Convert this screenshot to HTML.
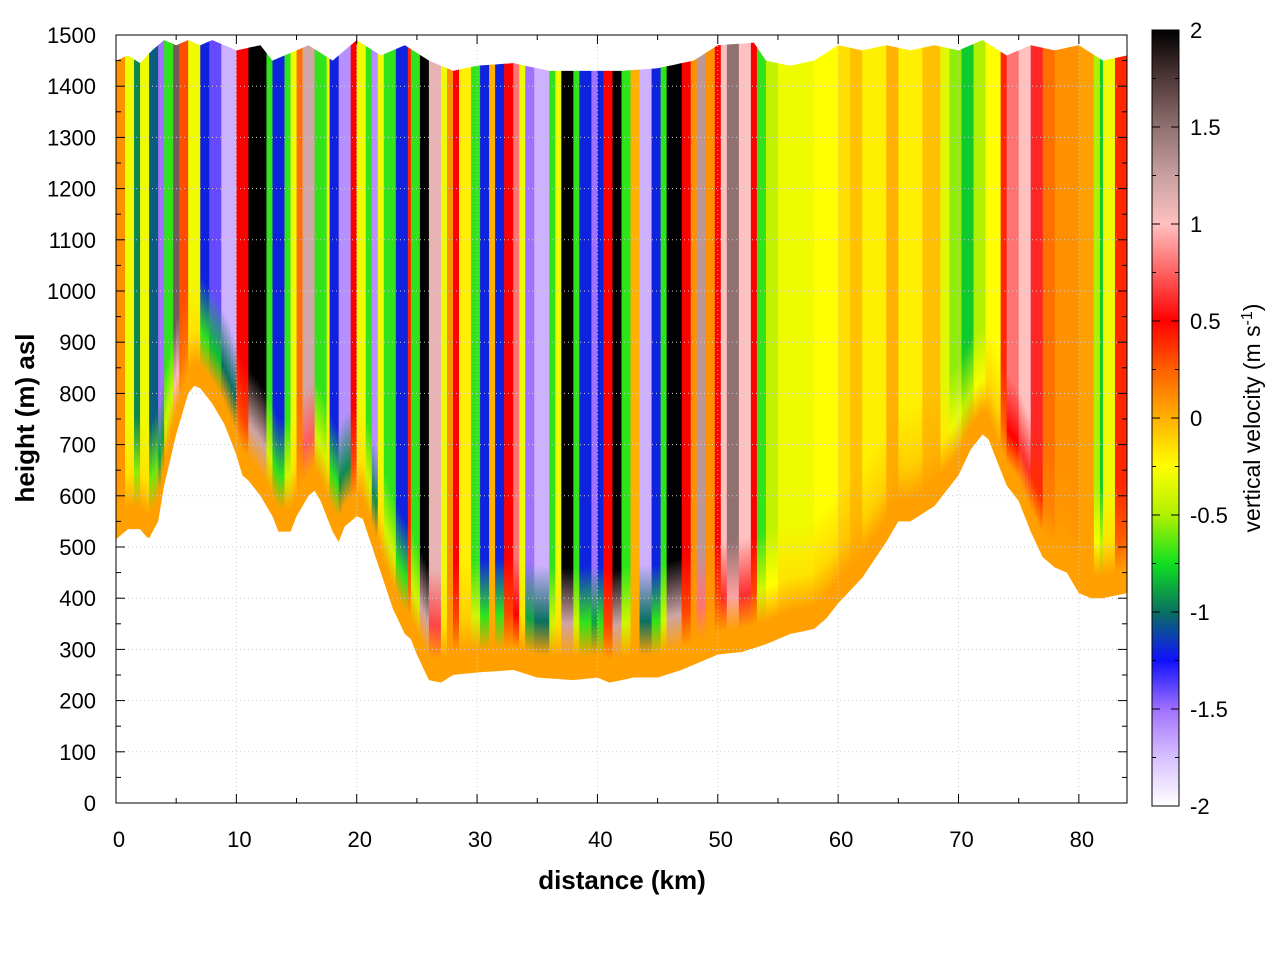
<!DOCTYPE html>
<html><head><meta charset="utf-8">
<style>
html,body{margin:0;padding:0;background:#fff;}
svg{display:block;font-family:"Liberation Sans",sans-serif;}
</style></head>
<body>
<svg id="chart" width="1280" height="960" viewBox="0 0 1280 960" xmlns="http://www.w3.org/2000/svg">
<defs id="defs"></defs>
<g id="plot"></g>
<g id="axes"></g>
<g id="cbar"></g>
</svg>
<script>
// ---- data ----
const segStartKm = [0,0.8,1.4,2.1,2.7,3.5,4.1,4.7,5.3,6.1,7.0,7.8,8.8,10.0,10.9,12.5,13.0,13.9,14.5,15.1,15.6,16.5,17.4,17.8,18.4,19.4,20.1,20.7,21.3,21.8,22.3,23.2,24.3,24.6,25.2,26.1,26.9,27.4,27.9,28.6,29.4,30.2,31.1,31.6,32.3,32.9,33.6,34.1,34.8,35.9,36.5,36.9,37.9,38.5,39.4,40.0,40.6,41.2,41.9,42.7,43.5,44.4,45.2,45.8,47.0,47.7,48.3,48.9,49.8,50.2,50.8,51.8,52.7,53.2,53.9,55.1,58,60,61,62,64,65,67,68.5,69.3,70.2,71.2,72.2,73.4,74,75,76,77,78,80.1,81.3,81.8,82.1,83.0];
const segVelocity = [0.1,-0.3,-0.95,-0.3,-1.05,-1.5,-0.7,1.6,0.3,-0.3,-1.2,-1.4,-1.7,0.5,2,-0.7,-1.2,-0.7,-0.3,0.2,1.2,-0.7,-0.3,-1.2,-1.6,0.5,-0.3,-0.7,-1.6,-0.3,-0.7,-1.2,0.4,-0.7,2,1.1,-0.3,0.1,0.5,-0.2,-0.7,-1.2,0,-1.2,0.5,0.8,-0.3,-1.5,-1.7,-0.7,-0.3,2,-0.7,-1.2,-1.5,-1.2,0.5,2,-0.7,0,-1.7,-1.2,-0.7,2,0.5,0.1,1.3,0.1,0.5,1,1.5,1,0.5,-0.7,-0.45,-0.3,-0.25,-0.15,-0.05,-0.2,0,-0.2,-0.05,-0.35,-0.55,-0.8,-0.5,-0.25,0.4,0.8,1.0,0.6,0.2,0.1,0.05,-0.5,-0.8,-0.3,0.4];
const terrainKm = [0,1,2,2.7,3.5,4,5,6,6.5,7,8,9,10,10.5,11,12,13,13.5,14.5,15,16,16.5,17,18,18.5,19,20,20.5,21,22,23,24,24.5,25,26,27,28,30,32,33,35,38,40,41,43,45,47,49,50,52,54,56,58,59,60,62,64,65,66,68,70,71,72,72.5,73,74,75,76,77,78,79,80,81,82,83,84];
const terrainM = [515,535,535,515,550,620,720,800,815,810,780,740,680,640,630,600,560,530,530,560,600,610,590,530,510,540,560,555,520,450,380,330,320,290,240,235,250,255,258,260,245,240,245,235,245,245,260,280,290,295,310,330,340,360,390,440,510,550,550,580,640,690,720,710,680,620,590,530,480,460,450,410,400,400,405,410];
const topKm = [0,1,2,3,4,5,6,7,8,10,12,13,14,16,18,20,22,24,26,27,28,30,33,36,40,42,45,48,50,53,54,56,58,60,62,64,66,68,70,72,74,76,78,80,82,84];
const topM = [1450,1460,1445,1470,1490,1480,1490,1480,1490,1470,1480,1450,1460,1480,1450,1490,1460,1480,1450,1440,1430,1440,1445,1430,1430,1430,1435,1450,1480,1485,1450,1440,1450,1480,1470,1480,1470,1480,1470,1490,1460,1480,1470,1480,1450,1460];
const xTicks = [0,10,20,30,40,50,60,70,80];
const yTicks = [0,100,200,300,400,500,600,700,800,900,1000,1100,1200,1300,1400,1500];
const cbTicks = [2,1.5,1,0.5,0,-0.5,-1,-1.5,-2];
const cmapVals = [-2,-1.75,-1.5,-1.25,-1,-0.75,-0.5,-0.25,0,0.25,0.5,0.75,1,1.25,1.5,1.75,2];
const cmapCols = ["#ffffff","#d8c0ff","#a070ff","#1010ff","#0a7060","#10e020","#b0f000","#ffff00","#ffb000","#ff6000","#ff0000","#ff6060","#ffc0c0","#c8a0a0","#907070","#503838","#000000"];

// ---- geometry ----
const X0=116,X1=1127,KM1=84,Y0=803,Y1=35,M1=1500;
const sx=k=>X0+(X1-X0)*k/KM1;
const sy=m=>Y0-(Y0-Y1)*m/M1;
const NS="http://www.w3.org/2000/svg";
function mk(tag,attrs,parent){const e=document.createElementNS(NS,tag);for(const a in attrs)e.setAttribute(a,attrs[a]);if(parent)parent.appendChild(e);return e;}
function interp(xs,ys,x){if(x<=xs[0])return ys[0];for(let i=1;i<xs.length;i++){if(x<=xs[i]){const t=(x-xs[i-1])/(xs[i]-xs[i-1]);return ys[i-1]+t*(ys[i]-ys[i-1]);}}return ys[ys.length-1];}
function hex(c){return [parseInt(c.slice(1,3),16),parseInt(c.slice(3,5),16),parseInt(c.slice(5,7),16)];}
function cmap(v){v=Math.max(-2,Math.min(2,v));for(let i=1;i<cmapVals.length;i++){if(v<=cmapVals[i]){const t=(v-cmapVals[i-1])/(cmapVals[i]-cmapVals[i-1]);const a=hex(cmapCols[i-1]),b=hex(cmapCols[i]);return `rgb(${a.map((x,j)=>Math.round(x+t*(b[j]-x))).join(',')})`;}}return cmapCols[cmapCols.length-1];}
function velAt(k){let v=segVelocity[0];for(let i=0;i<segStartKm.length;i++){if(k>=segStartKm[i])v=segVelocity[i];}return v;}

const defs=document.getElementById('defs');
const plot=document.getElementById('plot');
const axes=document.getElementById('axes');
const cbar=document.getElementById('cbar');

// grid
for(const t of xTicks){const l=mk('line',{x1:sx(t),x2:sx(t),y1:Y0,y2:Y1,stroke:'#ccc','stroke-width':1,'stroke-dasharray':'1,3'},axes);

}
for(const t of yTicks){const l=mk('line',{x1:X0,x2:X1,y1:sy(t),y2:sy(t),stroke:'#ccc','stroke-width':1,'stroke-dasharray':'1,3'},axes);

}

// domain clip
let pts=[];
for(let k=0;k<=KM1;k+=0.25)pts.push(sx(k)+','+sy(interp(topKm,topM,k)));
for(let k=KM1;k>=0;k-=0.25)pts.push(sx(k)+','+sy(interp(terrainKm,terrainM,k)));
const cp=mk('clipPath',{id:'dom'},defs);
mk('polygon',{points:pts.join(' ')},cp);
const field=mk('g',{'clip-path':'url(#dom)'},plot);


const step=0.25;
let gi=0;
for(let k=0;k<KM1;k+=step){
  const v=velAt(k+step/2);
  const g=interp(terrainKm,terrainM,k+step/2);
  const id='g'+(gi++);
  const lg=mk('linearGradient',{id:id,gradientUnits:'userSpaceOnUse',x1:0,x2:0,y1:sy(g),y2:sy(g+220)},defs);
  mk('stop',{offset:0,'stop-color':cmap(0.05)},lg);
  mk('stop',{offset:0.2,'stop-color':cmap(0.05)},lg);
  mk('stop',{offset:0.5,'stop-color':cmap(v*0.6+0.02)},lg);
  mk('stop',{offset:1,'stop-color':cmap(v)},lg);
  const r=mk('rect',{x:sx(k),y:Y1-10,width:sx(k+step)-sx(k)+0.6,height:Y0-Y1+20,fill:'url(#'+id+')'},field);
  
  
}

// frame and ticks
const fr=mk('rect',{x:X0,y:Y1,width:X1-X0,height:Y0-Y1,fill:'none',stroke:'#000','stroke-width':1},axes);


for(let t=0;t<=KM1;t+=5){const len=t%10===0?9:5;
 mk('line',{x1:sx(t),x2:sx(t),y1:Y0,y2:Y0-len,stroke:'#000'},axes);
 mk('line',{x1:sx(t),x2:sx(t),y1:Y1,y2:Y1+len,stroke:'#000'},axes);}
for(let t=0;t<=M1;t+=50){const len=t%100===0?9:5;
 mk('line',{x1:X0,x2:X0+len,y1:sy(t),y2:sy(t),stroke:'#000'},axes);
 mk('line',{x1:X1,x2:X1-len,y1:sy(t),y2:sy(t),stroke:'#000'},axes);}
for(const t of xTicks){const tx=mk('text',{x:sx(t)+3,y:847,'font-size':22,'text-anchor':'middle'},axes);tx.textContent=t;

}
for(const t of yTicks){const tx=mk('text',{x:96,y:sy(t)+8,'font-size':22,'text-anchor':'end'},axes);tx.textContent=t;

}
const xt=mk('text',{x:622,y:889,'font-size':26,'font-weight':'bold','text-anchor':'middle'},axes);xt.textContent='distance (km)';


const yt=mk('text',{x:0,y:0,'font-size':26,'font-weight':'bold','text-anchor':'middle',transform:'translate(34,418) rotate(-90)'},axes);yt.textContent='height (m) asl';



// colorbar
const CX=1152,CW=27,CY0=806,CY1=30;
const cy=v=>CY0-(CY0-CY1)*(v+2)/4;
const cg=mk('linearGradient',{id:'cbg',x1:0,x2:0,y1:1,y2:0},defs);
cmapVals.forEach((v,i)=>mk('stop',{offset:(v+2)/4,'stop-color':cmapCols[i]},cg));
const cr=mk('rect',{x:CX,y:CY1,width:CW,height:CY0-CY1,fill:'url(#cbg)',stroke:'#000'},cbar);


for(let v=-2;v<=2.001;v+=0.25){const len=Math.abs(v*2-Math.round(v*2))<0.01?8:4;
 mk('line',{x1:CX,x2:CX+len,y1:cy(v),y2:cy(v),stroke:'#000'},cbar);
 mk('line',{x1:CX+CW,x2:CX+CW-len,y1:cy(v),y2:cy(v),stroke:'#000'},cbar);}
for(const t of cbTicks){const tx=mk('text',{x:1190,y:cy(t)+8,'font-size':22},cbar);tx.textContent=t;

}
const ct=mk('text',{x:0,y:0,'font-size':23,'text-anchor':'middle',transform:'translate(1260,418) rotate(-90)'},cbar);
ct.innerHTML='vertical velocity (m s<tspan dy="-8" font-size="16">-1</tspan><tspan dy="8">)</tspan>';


</script>
</body></html>
